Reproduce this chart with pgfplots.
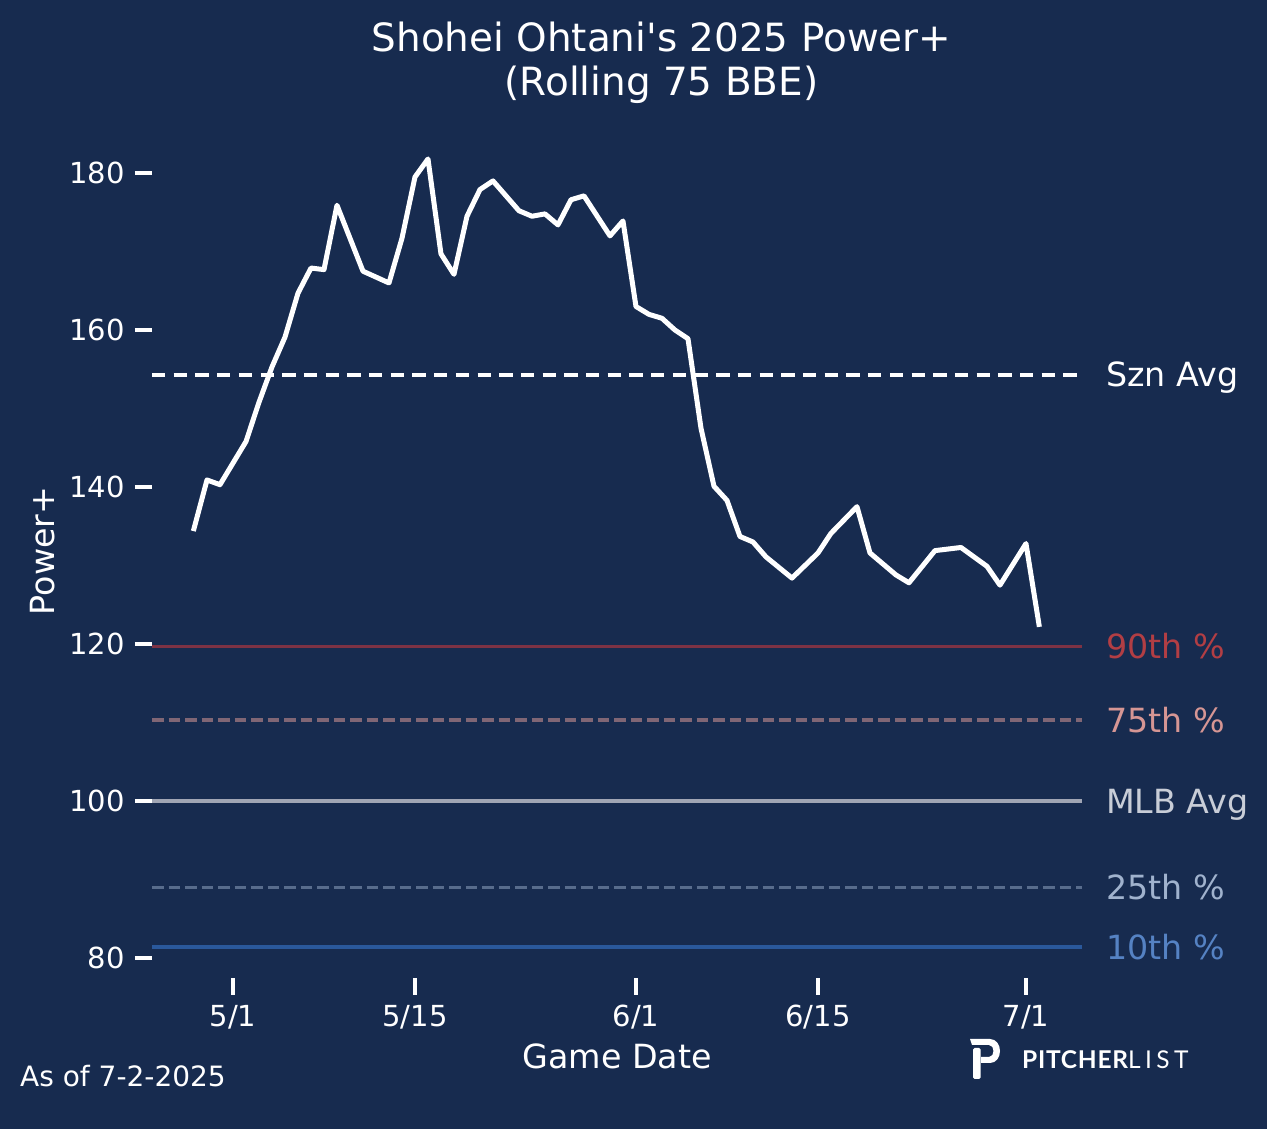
\documentclass[border=0pt]{standalone}
\usepackage{fontspec}
\setmainfont{DejaVu Sans}
\newfontfamily\logofont{Lato}
\usepackage{pgfplots}
\pgfplotsset{compat=1.18}
\definecolor{bg}{RGB}{23,43,79}
\definecolor{p90l}{RGB}{125,50,68}
\definecolor{p90t}{RGB}{178,62,68}
\definecolor{p75l}{RGB}{128,102,117}
\definecolor{p75t}{RGB}{214,150,148}
\definecolor{mlbl}{RGB}{160,165,180}
\definecolor{mlbt}{RGB}{200,205,215}
\definecolor{p25l}{RGB}{88,108,140}
\definecolor{p25t}{RGB}{160,178,205}
\definecolor{p10l}{RGB}{42,88,155}
\definecolor{p10t}{RGB}{85,130,195}
\pgfplotstableread{
day val
-3 134.7
-2 140.9
-1 140.3
1 145.8
2 150.8
3 155.3
4 159.1
5 164.7
6 167.9
7 167.7
8 175.9
10 167.5
12 166.0
13 171.7
14 179.5
15 181.8
16 169.7
17 167.1
18 174.5
19 177.9
20 179.0
22 175.2
23 174.5
24 174.8
25 173.4
26 176.6
27 177.1
29 172.0
30 173.9
31 163.0
32 162.0
33 161.5
34 160.0
35 158.9
36 147.5
37 140.1
38 138.3
39 133.7
40 133.0
41 131.1
43 128.4
45 131.6
46 134.1
48 137.5
49 131.6
51 128.8
52 127.8
54 131.9
56 132.3
58 129.9
59 127.5
61 132.8
62 122.5
}\powerdata
\newcommand{\rlab}{\fontsize{33.3}{40}\selectfont}
\begin{document}
\begin{tikzpicture}
\fill[bg] (0,0) rectangle (1267pt,1129pt);
\begin{axis}[
  at={(152pt,151pt)}, anchor=south west,
  scale only axis, width=930pt, height=852pt,
  xmin=-6.23, xmax=65.31, ymin=77.45, ymax=186,
  axis line style={draw=none},
  tick pos=left, tick align=outside,
  major tick length=17pt,
  tick style={white, line width=3.5pt},
  xtick={0,14,31,45,61},
  xticklabels={5/1,5/15,6/1,6/15,7/1},
  ytick={80,100,120,140,160,180},
  /pgf/number format/assume math mode=true,
  ticklabel style={text=white, font=\fontsize{29}{34}\selectfont},
  yticklabel style={anchor=east, inner sep=0pt, xshift=-10pt},
  xticklabel style={anchor=north, inner sep=0pt, yshift=-10pt},
  clip=false,
]
\addplot[p10l, line width=3.5pt] coordinates {(-6.23,81.4) (65.31,81.4)};
\addplot[p25l, line width=3.5pt, dash pattern=on 11.5pt off 5pt] coordinates {(-6.23,89.0) (65.31,89.0)};
\addplot[mlbl, line width=3.5pt] coordinates {(-6.23,100.0) (65.31,100.0)};
\addplot[p75l, line width=3.5pt, dash pattern=on 11.5pt off 5pt] coordinates {(-6.23,110.3) (65.31,110.3)};
\addplot[p90l, line width=3.5pt] coordinates {(-6.23,119.7) (65.31,119.7)};
\addplot[white, line width=4.5pt, dash pattern=on 13.3pt off 8.4pt] coordinates {(-6.23,154.3) (65.31,154.3)};
\addplot[white, line width=5pt, line join=round, line cap=rect] table[x=day, y=val] {\powerdata};
\node[anchor=base west, text=white, xshift=24pt, yshift=-12.1pt, inner sep=0pt] at (axis cs:65.31,154.3) {\rlab Szn Avg};
\node[anchor=base west, text=p90t, xshift=24pt, yshift=-12.1pt, inner sep=0pt] at (axis cs:65.31,119.7) {\rlab 90th \%};
\node[anchor=base west, text=p75t, xshift=24pt, yshift=-12.1pt, inner sep=0pt] at (axis cs:65.31,110.3) {\rlab 75th \%};
\node[anchor=base west, text=mlbt, xshift=24pt, yshift=-12.1pt, inner sep=0pt] at (axis cs:65.31,100.0) {\rlab MLB Avg};
\node[anchor=base west, text=p25t, xshift=24pt, yshift=-12.1pt, inner sep=0pt] at (axis cs:65.31,89.0) {\rlab 25th \%};
\node[anchor=base west, text=p10t, xshift=24pt, yshift=-12.1pt, inner sep=0pt] at (axis cs:65.31,81.4) {\rlab 10th \%};
\end{axis}
% title
\node[anchor=base, text=white, inner sep=0pt] at (661.5pt,1077pt) {\fontsize{38.9}{46}\selectfont Shohei Ohtani\textquotesingle s 2025 Power+};
\node[anchor=base, text=white, inner sep=0pt] at (661.5pt,1033pt) {\fontsize{38.9}{46}\selectfont (Rolling 75 BBE)};
% axis labels
\node[anchor=base, text=white, inner sep=0pt] at (617pt,60pt) {\rlab Game Date};
\node[anchor=base, text=white, inner sep=0pt, rotate=90] at (54pt,578pt) {\rlab Power+};
% footnote
\node[anchor=base west, text=white, inner sep=0pt] at (20pt,42pt) {\fontsize{28}{33}\selectfont As of 7-2-2025};
% logo
\fill[white] (970pt,90pt) -- (990pt,90pt) .. controls (996pt,90pt) and (1000pt,84.5pt) .. (1000pt,78pt) .. controls (1000pt,71.5pt) and (996pt,66pt) .. (990pt,66pt) -- (981pt,66pt) -- (981pt,72pt) -- (989pt,72pt) .. controls (992pt,72pt) and (993.5pt,75pt) .. (993.5pt,78pt) .. controls (993.5pt,81pt) and (992pt,84pt) .. (989pt,84pt) -- (972pt,84pt) -- cycle;
\fill[white, rounded corners=1.5pt] (973pt,81pt) rectangle (980.5pt,50pt);
\node[anchor=base west, text=white, inner sep=0pt] at (1022pt,60.7pt) {\logofont\fontsize{24.5}{29}\selectfont{\addfontfeatures{LetterSpace=3}\bfseries PITCHER}{\addfontfeatures{LetterSpace=18}LIST}};
\pgfresetboundingbox
\useasboundingbox (0,0) rectangle (1267pt,1129pt);
\end{tikzpicture}
\end{document}
